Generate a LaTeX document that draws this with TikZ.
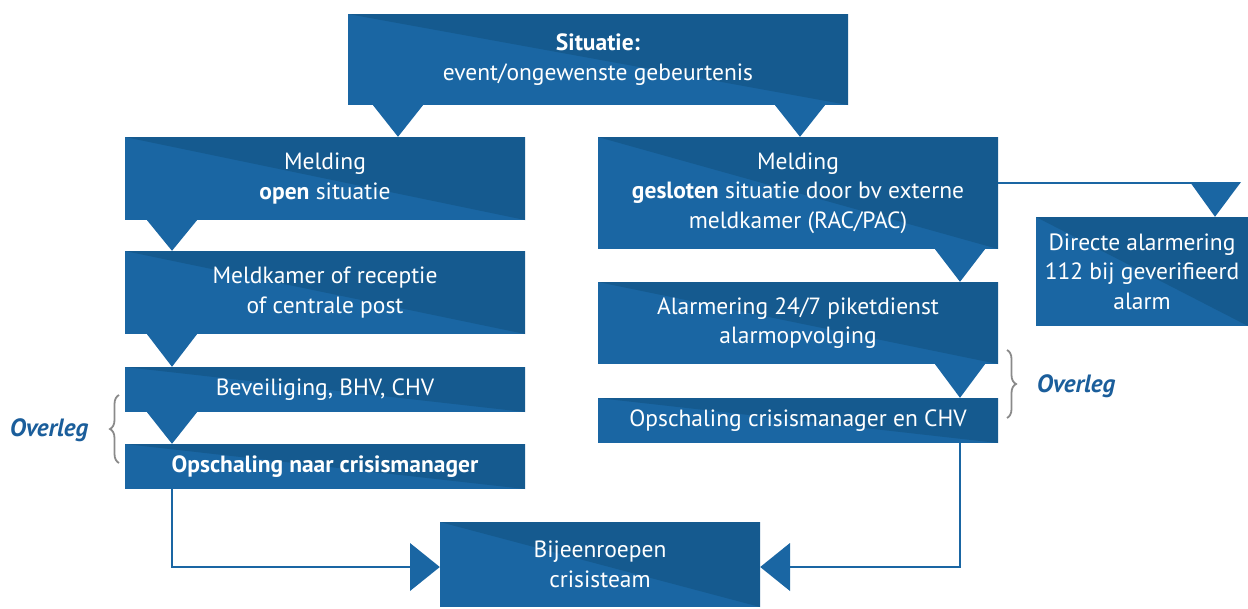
\documentclass[tikz,border=0pt]{standalone}
\usepackage{fontspec}
\setmainfont{PT Sans}
\usetikzlibrary{decorations.pathreplacing}
\definecolor{blauwlicht}{HTML}{1A66A3}
\definecolor{blauwdonker}{HTML}{155A8F}
\definecolor{accolade}{HTML}{8A8A8A}
\definecolor{overlegblauw}{HTML}{1B5E9B}

\begin{document}
\begin{tikzpicture}[x=1pt, y=-1pt,
    blok/.style={rectangle, fill=blauwlicht, text=white, align=center,
        inner sep=0pt, font=\fontsize{23.5}{29.5}\selectfont,
        path picture={\fill[blauwdonker] (path picture bounding box.north west)
            -- (path picture bounding box.north east)
            -- (path picture bounding box.south east) -- cycle;}},
    pijl/.style={fill=blauwlicht},
    lijn/.style={draw=blauwlicht, line width=2pt},
    accol/.style={draw=accolade, line width=1.8pt, decorate,
        decoration={brace, amplitude=9pt}},
    overleg/.style={text=overlegblauw,
        font=\fontsize{25}{28}\selectfont\bfseries\itshape}
]
    \useasboundingbox (0,0) rectangle (1248,608);

    % blokken
    \node[blok, minimum width=500pt, minimum height=91pt] (sit) at (598,59.5)
        {\textbf{Situatie:}\\event/ongewenste gebeurtenis};
    \node[blok, minimum width=400pt, minimum height=83pt] (open) at (325,178.5)
        {Melding\\\textbf{open} situatie};
    \node[blok, minimum width=400pt, minimum height=83pt] (mkamer) at (325,292.5)
        {Meldkamer of receptie\\of centrale post};
    \node[blok, minimum width=400pt, minimum height=45pt] (bev) at (325,389.5)
        {Beveiliging, BHV, CHV};
    \node[blok, minimum width=400pt, minimum height=45pt] (opnaar) at (325,466.5)
        {\textbf{Opschaling naar crisismanager}};
    \node[blok, minimum width=400pt, minimum height=112pt] (gesl) at (798,193)
        {Melding\\\textbf{gesloten} situatie door bv externe\\meldkamer (RAC/PAC)};
    \node[blok, minimum width=400pt, minimum height=82pt] (alarm) at (798,323)
        {Alarmering 24/7 piketdienst\\alarmopvolging};
    \node[blok, minimum width=400pt, minimum height=45pt] (opcm) at (798,420.5)
        {Opschaling crisismanager en CHV};
    \node[blok, minimum width=212pt, minimum height=109pt] (direct) at (1142,271.5)
        {Directe alarmering\\112 bij geverifieerd\\alarm};
    \node[blok, minimum width=320pt, minimum height=85pt] (bijeen) at (600,564.5)
        {Bijeenroepen\\crisisteam};

    % pijlen
    \fill[pijl] (sit.south -| 373,0) -- (sit.south -| 423,0) -- (open.north -| 398,0) -- cycle;
    \fill[pijl] (sit.south -| 775,0) -- (sit.south -| 825,0) -- (gesl.north -| 800,0) -- cycle;
    \fill[pijl] (open.south -| 147,0) -- (open.south -| 197,0) -- (mkamer.north -| 172,0) -- cycle;
    \fill[pijl] (mkamer.south -| 147,0) -- (mkamer.south -| 197,0) -- (bev.north -| 172,0) -- cycle;
    \fill[pijl] (bev.south -| 147,0) -- (bev.south -| 197,0) -- (opnaar.north -| 172,0) -- cycle;
    \fill[pijl] (gesl.south -| 935,0) -- (gesl.south -| 985,0) -- (alarm.north -| 960,0) -- cycle;
    \fill[pijl] (alarm.south -| 935,0) -- (alarm.south -| 985,0) -- (opcm.north -| 960,0) -- cycle;

    \coordinate (hoek) at (1240,183);
    \draw[lijn] (gesl.east |- hoek) -- (hoek);
    \fill[pijl] (1190,182) -- (1241,182) -- (direct.north -| 1215,0) -- cycle;

    \coordinate (links) at (410,567);
    \coordinate (rechts) at (790,567);
    \draw[lijn] (opnaar.south -| 172,0) |- (links);
    \fill[pijl] (410,543) -- (410,591) -- (bijeen.west |- links) -- cycle;
    \draw[lijn] (opcm.south -| 960,0) |- (rechts);
    \fill[pijl] (790,543) -- (790,591) -- (bijeen.east |- rechts) -- cycle;

    % overleg
    \draw[accol] (119,463) -- (119,395);
    \node[overleg] (ovlinks) at (49,430) {Overleg};
    \draw[accol] (1007,350) -- (1007,418);
    \node[overleg] (ovrechts) at (1076,386) {Overleg};
\end{tikzpicture}
\end{document}
